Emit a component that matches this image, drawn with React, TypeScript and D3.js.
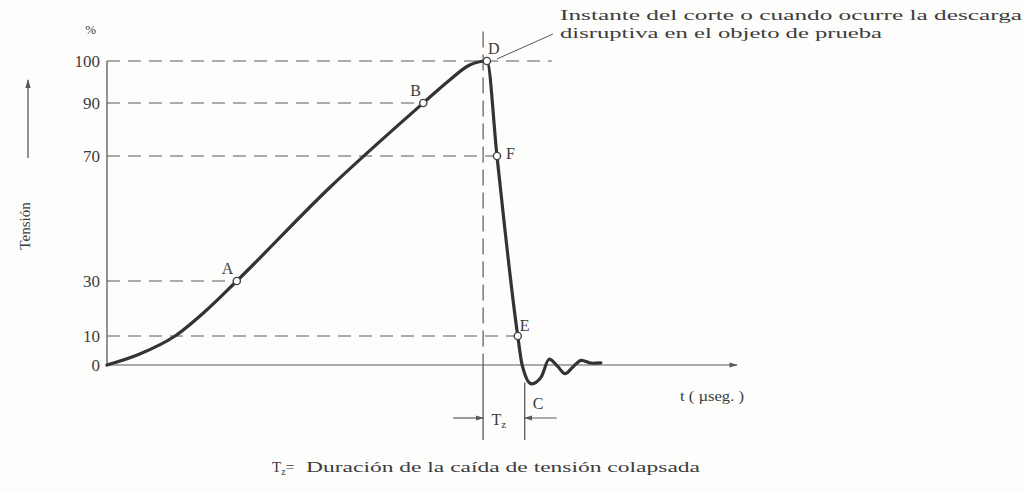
import React from "react";
import * as d3 from "d3";

// Voltage levels marked on the vertical axis (% of peak)
const levelTicks = [0, 10, 30, 70, 90, 100];

// Chopped impulse: time (arbitrary µs units) and voltage (% of peak)
const waveT = [0, 5.2, 10.8, 15.6, 20.6, 35.4, 50.2, 54.4, 57.5, 60.3, 61.9, 65.2, 65.9, 67.4, 68.9, 70.2, 71.5, 72.7, 74.0, 75.3, 77.0, 78.4];
const waveV = [0, 3.8, 10, 19, 30, 60, 90, 95.5, 99, 100, 70, 10, 0, -6.5, -4.2, 2, -0.4, -3, -0.6, 1.6, 0.6, 0.7];

// Characteristic points on the wave
const markNames = ["A", "B", "D", "F", "E"];
const markT = [20.6, 50.2, 60.3, 61.9, 65.2];
const markV = [30, 90, 100, 70, 10];

// Dashed reference lines: level and the time where each stops
const guideV = [100, 90, 70, 30, 10];
const guideEndT = [70.6, 50.2, 61.9, 20.6, 65.2];

// Chopping instant and end of the collapse (limits of Tz)
const chopT = 59.7;
const collapseEndT = 66.3;

const annotationLines = [
  "Instante del corte o cuando ocurre la descarga",
  "disruptiva en el objeto de prueba",
];
const captionText = "Duración de la caída de tensión colapsada";
const yTitle = "Tensión";
const xTitle = "t ( µseg. )";

const W = 1026;
const H = 493;
const INK = "#3c3c3c";
const LINE = "#5a5a5a";
const FONT = "'Liberation Serif', 'DejaVu Serif', serif";

export default function App() {
  // The divisions of this hand-drawn axis are not evenly spaced, so the
  // scale is piecewise linear through the labelled levels.
  const y = d3
    .scaleLinear()
    .domain(levelTicks)
    .range([365, 336, 281, 156, 103, 61]);
  const x = d3.scaleLinear().domain([0, 100]).range([107, 737]);

  const wavePts: [number, number][] = waveT.map((t, i) => [x(t), y(waveV[i])]);
  const waveLine = d3.line().curve(d3.curveMonotoneX)(wavePts) || "";

  const x0 = x(0);
  const y0 = y(0);
  const chopX = x(chopT);
  const endX = x(collapseEndT);
  const dimY = 418;
  const dash = "13 8";

  return (
    <svg
      width={W}
      height={H}
      viewBox={`0 0 ${W} ${H}`}
      style={{ position: "absolute", left: 0, top: 0, background: "#fdfdfc" }}
      fontFamily={FONT}
    >
      <defs>
        <marker id="ah" viewBox="0 0 10 10" refX="9" refY="5" markerWidth="7" markerHeight="7" orient="auto">
          <path d="M0,2 L10,5 L0,8 Z" fill={LINE} />
        </marker>
      </defs>

      {/* y axis title with upward arrow */}
      <line x1={28} y1={158} x2={28} y2={80} stroke={LINE} strokeWidth={1.3} markerEnd="url(#ah)" />
      <text
        transform={`translate(30, 226) rotate(-90)`}
        textAnchor="middle"
        fontSize={15}
        fill={INK}
      >
        {yTitle}
      </text>

      {/* axes */}
      <line x1={x0} y1={y(100)} x2={x0} y2={y0} stroke={LINE} strokeWidth={1.3} />
      <line x1={x0} y1={y0} x2={x(100)} y2={y0} stroke={LINE} strokeWidth={1.2} markerEnd="url(#ah)" />

      {/* tick labels */}
      <text x={96} y={y(100) - 27} textAnchor="end" fontSize={13} fill={INK}>%</text>
      {levelTicks.map((v) => (
        <text key={v} x={100} y={y(v) + 6} textAnchor="end" fontSize={17} fill={INK}>
          {v}
        </text>
      ))}

      {/* dashed level guides */}
      {guideV.map((v, i) => (
        <line
          key={v}
          x1={x0}
          y1={y(v)}
          x2={x(guideEndT[i])}
          y2={y(v)}
          stroke={LINE}
          strokeWidth={1.2}
          strokeDasharray={dash}
        />
      ))}

      {/* chopping instant: dashed above the axis, solid below */}
      <line x1={chopX} y1={y(107)} x2={chopX} y2={y0} stroke={LINE} strokeWidth={1.2} strokeDasharray="16 7" />
      <line x1={chopX} y1={y0} x2={chopX} y2={440} stroke={LINE} strokeWidth={1.3} />
      <line x1={endX} y1={y(-6)} x2={endX} y2={440} stroke={LINE} strokeWidth={1.3} />

      {/* Tz dimension arrows */}
      <line x1={chopX - 30} y1={dimY} x2={chopX} y2={dimY} stroke={LINE} strokeWidth={1.2} markerEnd="url(#ah)" />
      <line x1={endX + 32} y1={dimY} x2={endX} y2={dimY} stroke={LINE} strokeWidth={1.2} markerEnd="url(#ah)" />
      <text x={(chopX + endX) / 2 - 5} y={dimY + 7} textAnchor="middle" fontSize={16} fill={INK}>
        T<tspan fontSize={11} dy={3}>z</tspan>
      </text>
      <text x={endX + 8} y={dimY - 9} fontSize={16} fill={INK}>C</text>

      {/* the wave */}
      <path d={waveLine} fill="none" stroke="#333" strokeWidth={3.2} strokeLinejoin="round" strokeLinecap="round" />

      {/* characteristic points */}
      {markNames.map((name, i) => (
        <circle key={name} cx={x(markT[i])} cy={y(markV[i])} r={3.6} fill="#fff" stroke="#444" strokeWidth={1.4} />
      ))}
      <text x={x(markT[0]) - 15} y={y(markV[0]) - 7} fontSize={16} fill={INK}>{markNames[0]}</text>
      <text x={x(markT[1]) - 13} y={y(markV[1]) - 7} fontSize={16} fill={INK}>{markNames[1]}</text>
      <text x={x(markT[2]) + 1} y={y(markV[2]) - 7} fontSize={16} fill={INK}>{markNames[2]}</text>
      <text x={x(markT[3]) + 9} y={y(markV[3]) + 3} fontSize={16} fill={INK}>{markNames[3]}</text>
      <text x={x(markT[4]) + 2} y={y(markV[4]) - 5} fontSize={16} fill={INK}>{markNames[4]}</text>

      {/* annotation for the chopping instant */}
      <line x1={x(markT[2]) + 10} y1={y(100) - 2} x2={553} y2={34} stroke={LINE} strokeWidth={1} />
      <text x={560} y={20} fontSize={14} fill={INK} textLength={462} lengthAdjust="spacingAndGlyphs">
        {annotationLines[0]}
      </text>
      <text x={560} y={38} fontSize={14} fill={INK} textLength={322} lengthAdjust="spacingAndGlyphs">
        {annotationLines[1]}
      </text>

      {/* x axis title */}
      <text x={680} y={401} fontSize={14} fill={INK} textLength={64} lengthAdjust="spacingAndGlyphs">
        {xTitle}
      </text>

      {/* caption */}
      <text x={272} y={472} fontSize={15} fill={INK}>
        T<tspan fontSize={10} dy={3}>z</tspan>
        <tspan dy={-3}>=</tspan>
      </text>
      <text x={306} y={472} fontSize={15} fill={INK} textLength={394} lengthAdjust="spacingAndGlyphs">
        {captionText}
      </text>
    </svg>
  );
}
